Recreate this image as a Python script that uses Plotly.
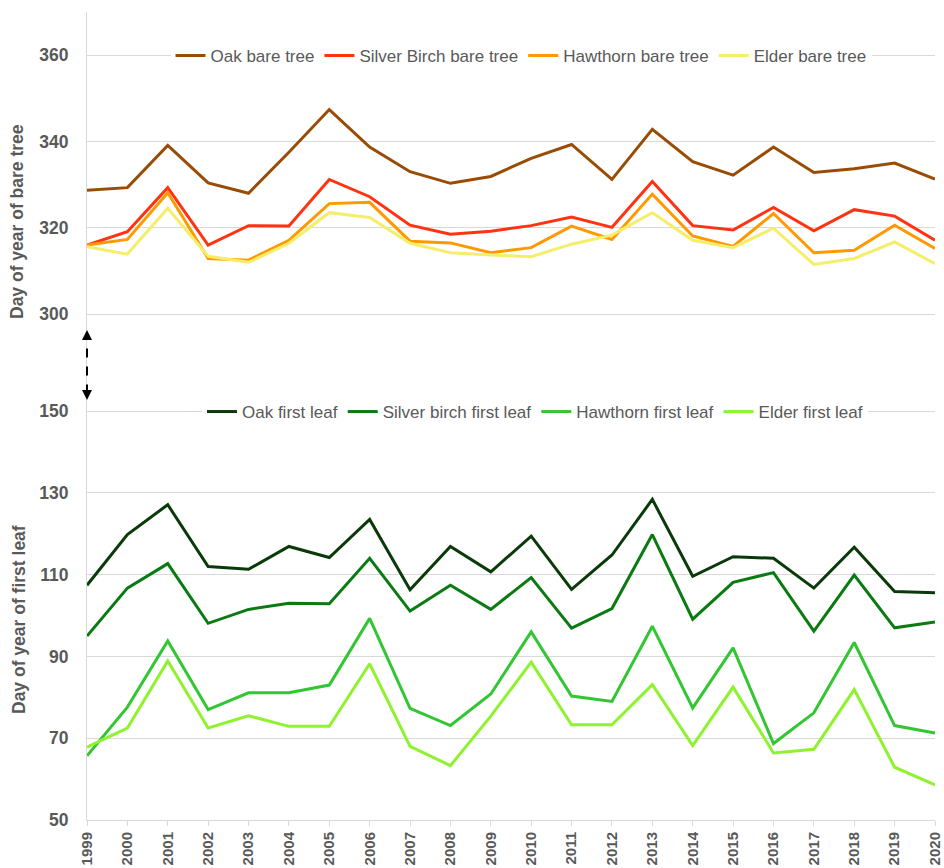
import plotly.graph_objects as go
from plotly.subplots import make_subplots

years = list(range(1999, 2021))

oak_bare = [328.7, 329.3, 339.1, 330.4, 328.0, 337.5, 347.4, 338.7, 333.0, 330.3, 331.9, 336.1,
            339.3, 331.2, 342.8, 335.3, 332.2, 338.7, 332.8, 333.7, 335.0, 331.3]
birch_bare = [316.0, 319.1, 329.3, 316.0, 320.5, 320.4, 331.2, 327.2, 320.6, 318.5, 319.2, 320.5,
              322.5, 320.1, 330.7, 320.5, 319.5, 324.7, 319.3, 324.2, 322.7, 317.1]
hawthorn_bare = [316.0, 317.3, 328.1, 312.9, 312.5, 317.1, 325.6, 325.9, 316.9, 316.5, 314.2, 315.4,
                 320.4, 317.3, 327.8, 318.1, 315.7, 323.3, 314.2, 314.8, 320.6, 315.2]
elder_bare = [315.6, 313.9, 324.5, 313.4, 312.0, 316.4, 323.5, 322.4, 316.4, 314.2, 313.7, 313.3,
              316.2, 318.3, 323.5, 317.1, 315.4, 319.9, 311.5, 312.9, 316.7, 311.7]

oak_leaf = [107.4, 119.8, 127.1, 112.0, 111.3, 116.9, 114.2, 123.5, 106.3, 116.9, 110.7, 119.4,
            106.4, 114.8, 128.4, 109.6, 114.4, 114.0, 106.7, 116.7, 105.9, 105.6]
birch_leaf = [95.0, 106.7, 112.7, 98.1, 101.5, 103.0, 102.9, 114.0, 101.1, 107.4, 101.5, 109.3,
              96.9, 101.7, 119.8, 99.1, 108.1, 110.5, 96.2, 109.9, 97.0, 98.4]
hawthorn_leaf = [65.7, 77.6, 93.8, 77.0, 81.1, 81.1, 83.0, 99.3, 77.3, 73.1, 80.8, 96.0,
                 80.3, 79.0, 97.4, 77.4, 92.1, 68.7, 76.2, 93.4, 73.1, 71.3]
elder_leaf = [67.8, 72.5, 88.9, 72.5, 75.5, 72.9, 72.9, 88.2, 68.0, 63.3, 75.4, 88.6,
              73.3, 73.3, 83.1, 68.2, 82.5, 66.4, 67.3, 81.9, 62.9, 58.6]

bare_series = [
    ("Oak bare tree", oak_bare, "#984C06"),
    ("Silver Birch bare tree", birch_bare, "#FF3311"),
    ("Hawthorn bare tree", hawthorn_bare, "#FF9900"),
    ("Elder bare tree", elder_bare, "#F4EE6A"),
]
leaf_series = [
    ("Oak first leaf", oak_leaf, "#0A3A0A"),
    ("Silver birch first leaf", birch_leaf, "#0A7A12"),
    ("Hawthorn first leaf", hawthorn_leaf, "#33C633"),
    ("Elder first leaf", elder_leaf, "#8FF22E"),
]

FONT = "Liberation Sans, Arial, sans-serif"
GREY = "#595959"
GRID = "#D9D9D9"

# Plot area in window pixels: x=87..935, y=12..820.
def py(pix):
    return (820 - pix) / 808

def px(pix):
    return (pix - 87) / 848

split = py(362)

fig = make_subplots(rows=2, cols=1, shared_xaxes=True, vertical_spacing=0)

for name, vals, col in bare_series:
    fig.add_trace(go.Scatter(x=years, y=vals, name=name, mode="lines",
                             line=dict(color=col, width=3), legend="legend"), row=1, col=1)
for name, vals, col in leaf_series:
    fig.add_trace(go.Scatter(x=years, y=vals, name=name, mode="lines",
                             line=dict(color=col, width=3), legend="legend2"), row=2, col=1)

legend_font = dict(size=17, color=GREY, family=FONT)
fig.update_layout(
    width=944, height=868,
    margin=dict(l=87, r=9, t=12, b=48, autoexpand=False),
    paper_bgcolor="white", plot_bgcolor="white",
    font=dict(family=FONT, color=GREY),
    showlegend=True,
    legend=dict(orientation="h", x=px(521), xanchor="center", y=py(56), yanchor="middle",
                bgcolor="white", font=legend_font, itemwidth=30, tracegroupgap=0),
    legend2=dict(orientation="h", x=px(535), xanchor="center", y=py(412), yanchor="middle",
                 bgcolor="white", font=legend_font, itemwidth=30, tracegroupgap=0),
    yaxis=dict(domain=[split, 1.0]),
    yaxis2=dict(domain=[0.0, split]),
)

fig.update_xaxes(range=[1999, 2020], showgrid=False, zeroline=False, automargin=False,
                 showline=True, linecolor=GRID, linewidth=1)
fig.update_xaxes(row=1, col=1, showticklabels=False, showline=False, ticks="")
fig.update_xaxes(row=2, col=1, tickmode="array", tickvals=years, ticktext=[str(y) for y in years],
                 tickangle=-90, ticks="outside", ticklen=5, tickcolor=GRID,
                 ticklabeloverflow="allow",
                 tickfont=dict(size=15, color=GREY, family=FONT, weight="bold"))

yax_common = dict(showgrid=True, gridcolor=GRID, gridwidth=1, zeroline=False, automargin=False,
                  showline=True, linecolor=GRID, linewidth=1, dtick=20, ticks="",
                  ticklabelstandoff=14,
                  tickfont=dict(size=17.5, color=GREY, family=FONT, weight="bold"))
fig.update_yaxes(row=1, col=1, range=[288.9, 370.0], tick0=300, **yax_common)
fig.update_yaxes(row=2, col=1, range=[50, 162.0], tick0=50, **yax_common)

title_font = dict(size=17.5, color=GREY, family=FONT, weight="bold")
fig.add_annotation(xref="paper", yref="paper", x=px(17), y=py(222), text="Day of year of bare tree",
                   textangle=-90, showarrow=False, font=title_font, xanchor="center", yanchor="middle")
fig.add_annotation(xref="paper", yref="paper", x=px(19), y=py(620), text="Day of year of first leaf",
                   textangle=-90, showarrow=False, font=title_font, xanchor="center", yanchor="middle")

# dashed double-headed arrow marking the axis break
y_top = py(330)
y_bot = py(400)
fig.add_shape(type="line", xref="paper", yref="paper", x0=0, x1=0,
              y0=y_bot + 0.008, y1=y_top - 0.008,
              line=dict(color="black", width=2, dash="dash"))
for yy, ay in [(y_top, 9), (y_bot, -9)]:
    fig.add_annotation(xref="paper", yref="paper", x=0, y=yy, ax=0, ay=ay, text="",
                       showarrow=True, arrowhead=2, arrowsize=1, arrowwidth=2, arrowcolor="black")

fig.write_html("out.html", config={"displayModeBar": False},
               post_script="document.body.style.margin='0px';document.body.style.overflow='hidden';")
